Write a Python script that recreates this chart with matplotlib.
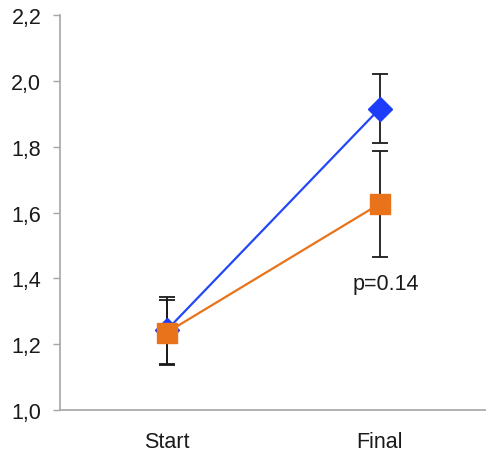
import matplotlib
matplotlib.use("Agg")
import matplotlib.pyplot as plt
from matplotlib.ticker import FuncFormatter

plt.rcParams['font.family'] = ['Liberation Sans', 'DejaVu Sans']

categories = ["Start", "Final"]
blue_vals = [1.242, 1.915]
blue_err = [0.102, 0.105]
orange_vals = [1.235, 1.626]
orange_err = [0.098, 0.161]
yticks = [1.0, 1.2, 1.4, 1.6, 1.8, 2.0, 2.2]
annotation = "p=0.14"

fig = plt.figure(figsize=(4.86, 4.52), dpi=100)
ax = fig.add_axes([0.1235, 0.0907, 0.8765, 0.8739])

x = list(range(len(categories)))
blue_c = '#2448f7'
orange_c = '#e8731b'

ax.errorbar(x, blue_vals, yerr=blue_err, fmt='none', ecolor='#1a1a1a',
            elinewidth=1.3, capsize=6, capthick=1.3, zorder=1)
ax.errorbar(x, orange_vals, yerr=orange_err, fmt='none', ecolor='#1a1a1a',
            elinewidth=1.3, capsize=6, capthick=1.3, zorder=1)

ax.plot(x, blue_vals, color=blue_c, lw=1.6, marker='D', markersize=12.5,
        markerfacecolor='#1e3dfb', markeredgecolor='#1e3dfb', zorder=3)
ax.plot(x, orange_vals, color=orange_c, lw=1.6, marker='s', markersize=14,
        markerfacecolor=orange_c, markeredgecolor=orange_c, zorder=4)

ax.text(1.03, 1.383, annotation, ha='center', va='center', fontsize=15.5, color='#1a1a1a')

ax.set_xlim(-0.5, 1.5)
ax.set_ylim(1.0, 2.2)
ax.set_yticks(yticks)
ax.yaxis.set_major_formatter(FuncFormatter(lambda v, p: f"{v:.1f}".replace('.', ',')))
ax.set_xticks(x)
ax.set_xticklabels(categories)

for s in ['top', 'right']:
    ax.spines[s].set_visible(False)
for s in ['left', 'bottom']:
    ax.spines[s].set_color('#a6a6a6')
    ax.spines[s].set_linewidth(1.2)

ax.tick_params(axis='y', length=5, width=1.0, color='#a6a6a6', pad=8.5,
               labelsize=15.5, labelcolor='#1a1a1a')
ax.tick_params(axis='x', length=0, pad=15, labelsize=15.5, labelcolor='#1a1a1a')

fig.savefig("out.png", dpi=100)
